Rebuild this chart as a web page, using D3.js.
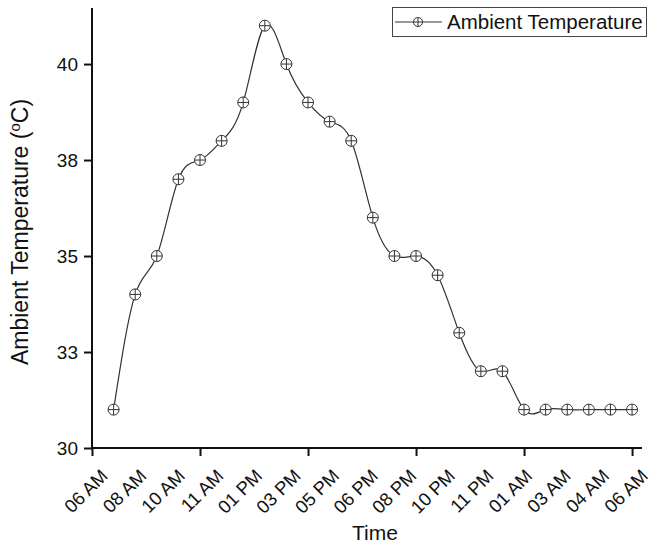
<!DOCTYPE html>
<html>
<head>
<meta charset="utf-8">
<script src="https://cdn.jsdelivr.net/npm/d3@7"></script>
<style>
  body { margin: 0; background: #fff; }
  svg { font-family: "Liberation Sans", Arial, sans-serif; }
</style>
</head>
<body>
<div class="graph"></div>
<script>
// hourly readings, index 1..25 on the x axis
const hours = d3.range(1, 26);
const temps = [31, 34, 35, 37, 37.5, 38, 39, 41, 40, 39, 38.5, 38, 36, 35, 35, 34.5, 33, 32, 32, 31, 31, 31, 31, 31, 31];

const timeLabels = ["06 AM", "08 AM", "10 AM", "11 AM", "01 PM", "03 PM", "05 PM", "06 PM",
                    "08 PM", "10 PM", "11 PM", "01 AM", "03 AM", "04 AM", "06 AM"];
const xMajorTicks = [0, 5, 10, 15, 20, 25];
const yTickValues = [30, 32.5, 35, 37.5, 40];
const yTickLabels = ["30", "33", "35", "38", "40"];

const width = 651, height = 545;

const svg = d3.select(".graph")
  .append("svg")
  .attr("width", width)
  .attr("height", height);

const x = d3.scaleLinear().domain([0, 25.46]).range([92, 642]);
const y = d3.scaleLinear().domain([30, 41.46]).range([448, 8]);

// x axis
const xAxis = svg.append("g")
  .attr("transform", "translate(0,448)")
  .call(d3.axisBottom(x).tickValues(xMajorTicks).tickSize(8).tickFormat(""));
xAxis.select(".domain").attr("stroke", "#111").attr("stroke-width", 2).attr("d", "M" + x.range()[0] + ",0H" + x.range()[1]);
xAxis.selectAll(".tick line").attr("stroke", "#111").attr("stroke-width", 2);

// rotated time labels, spread evenly along the axis
svg.append("g").selectAll("text")
  .data(timeLabels)
  .enter().append("text")
  .attr("text-anchor", "end")
  .attr("font-size", 18.5)
  .attr("fill", "#111")
  .attr("transform", function(d, i) {
    const px = x(i * 25 / 14);
    return "translate(" + (px + 17) + "," + 477 + ") rotate(-45)";
  })
  .text(String);

// y axis
const yAxis = svg.append("g")
  .attr("transform", "translate(92,0)")
  .call(d3.axisLeft(y).tickValues(yTickValues).tickSize(8)
    .tickFormat(function(d, i) { return yTickLabels[i]; }));
yAxis.select(".domain").attr("stroke", "#111").attr("stroke-width", 2).attr("d", "M0," + y.range()[0] + "V" + y.range()[1]);
yAxis.selectAll(".tick line").attr("stroke", "#111").attr("stroke-width", 2);
yAxis.selectAll(".tick text").attr("font-size", 19).attr("fill", "#111").attr("x", -14).attr("font-family", "Liberation Sans, Arial, sans-serif");

// axis titles
const yTitle = svg.append("text")
  .attr("transform", "translate(28,232) rotate(-90)")
  .attr("text-anchor", "middle")
  .attr("font-size", 23)
  .attr("fill", "#111");
yTitle.append("tspan").text("Ambient Temperature (");
yTitle.append("tspan").attr("font-size", 15).attr("dy", -8).text("o");
yTitle.append("tspan").attr("dy", 8).text("C)");

svg.append("text")
  .attr("x", 375)
  .attr("y", 540)
  .attr("text-anchor", "middle")
  .attr("font-size", 21)
  .attr("fill", "#111")
  .text("Time");

// the curve
const points = hours.map(function(h, i) { return [h, temps[i]]; });
const line = d3.line()
  .x(function(d) { return x(d[0]); })
  .y(function(d) { return y(d[1]); })
  .curve(d3.curveNatural);

svg.append("path")
  .datum(points)
  .attr("fill", "none")
  .attr("stroke", "#333")
  .attr("stroke-width", 1.2)
  .attr("d", line);

// circle-plus markers
function marker(g, r) {
  g.append("circle").attr("r", r).attr("fill", "#fff").attr("stroke", "#333").attr("stroke-width", 1);
  g.append("line").attr("x1", -r).attr("x2", r).attr("stroke", "#333").attr("stroke-width", 1);
  g.append("line").attr("y1", -r).attr("y2", r).attr("stroke", "#333").attr("stroke-width", 1);
}

svg.append("g").selectAll("g")
  .data(points)
  .enter().append("g")
  .attr("transform", function(d) { return "translate(" + x(d[0]) + "," + y(d[1]) + ")"; })
  .each(function() { marker(d3.select(this), 5.5); });

// legend
const legend = svg.append("g");
legend.append("rect")
  .attr("x", 392.5).attr("y", 7.5).attr("width", 254).attr("height", 29)
  .attr("fill", "#fff").attr("stroke", "#444").attr("stroke-width", 1);
legend.append("line")
  .attr("x1", 395).attr("x2", 442).attr("y1", 22).attr("y2", 22)
  .attr("stroke", "#333").attr("stroke-width", 1.2);
const lm = legend.append("g").attr("transform", "translate(418,22)");
marker(lm, 4.5);
legend.append("text")
  .attr("x", 447).attr("y", 29)
  .attr("font-size", 20.5)
  .attr("fill", "#111")
  .text("Ambient Temperature");
</script>
</body>
</html>
